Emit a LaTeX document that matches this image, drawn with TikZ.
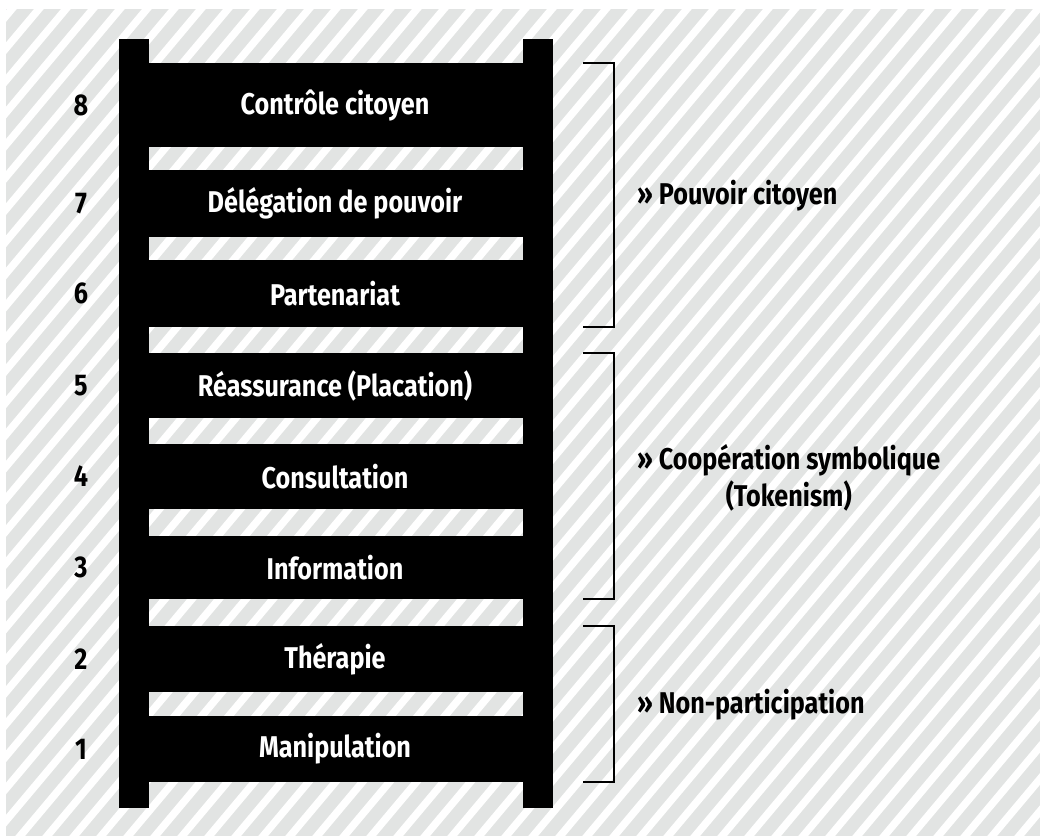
\documentclass[tikz,border=0pt]{standalone}
\usepackage{fontspec}
\setmainfont{Fira Sans}[FakeStretch=0.84]
\definecolor{stripegray}{HTML}{E2E4E3}
\begin{document}
\begin{tikzpicture}[x=1pt,y=-1pt,
  rail/.style={fill=black},
  rung/.style={fill=black, text=white, inner sep=0pt, minimum width=390pt,
    font=\bfseries\fontsize{30}{33}\selectfont},
  numtext/.style={text=black, inner sep=0pt,
    font=\bfseries\fontsize{30}{33}\selectfont},
  grouptext/.style={text=black, anchor=west, align=center, inner sep=0pt,
    font=\bfseries\fontsize{30}{37}\selectfont},
  bracket/.style={draw=black, line width=2pt, line join=miter}]
\useasboundingbox (0,0) rectangle (1040,836);
\fill[white] (0,0) rectangle (1040,836);

% striped backdrop
\begin{scope}
  \clip (6,9) rectangle (1040,836);
  \fill[stripegray] (6,9) rectangle (1040,836);
  \foreach \k in {-40,...,45}
    \draw[white, line width=7.5pt] (\k*27, 860) -- ++(755,-900);
\end{scope}

% ladder rails
\fill[rail] (118.5,39) rectangle (148.5,808);
\fill[rail] (522.5,39) rectangle (552.5,808);

% rungs
\node[rung, minimum height=84pt] (r8) at (335,105)   {Contrôle citoyen};
\node[rung, minimum height=67pt] (r7) at (335,203.5) {Délégation de pouvoir};
\node[rung, minimum height=67pt] (r6) at (335,293.5) {Partenariat};
\node[rung, minimum height=65pt] (r5) at (335,385.5) {Réassurance (Placation)};
\node[rung, minimum height=65pt] (r4) at (335,476.5) {Consultation};
\node[rung, minimum height=63pt] (r3) at (335,567.5) {Information};
\node[rung, minimum height=66pt] (r2) at (335,659)   {Thérapie};
\node[rung, minimum height=66pt] (r1) at (335,749)   {Manipulation};

% level numbers
\foreach \n in {8,7,6,5,4,3,2,1}
  \node[numtext] (n\n) at (r\n.center -| 81,0) {\n};

% brackets
\coordinate (tick) at (583,0);
\coordinate (spine) at (614,0);
\draw[bracket] (r8.north -| tick) -- (r8.north -| spine) -- (r6.south -| spine) -- (r6.south -| tick);
\draw[bracket] (r5.north -| tick) -- (r5.north -| spine) -- (r3.south -| spine) -- (r3.south -| tick);
\draw[bracket] (r2.north -| tick) -- (r2.north -| spine) -- (r1.south -| spine) -- (r1.south -| tick);

% group labels
\node[grouptext] (g3) at (637,196) {» Pouvoir citoyen};
\node[grouptext] (g2) at (637,478) {» Coopération symbolique\\(Tokenism)};
\node[grouptext] (g1) at (637,705) {» Non-participation};
\end{tikzpicture}
\end{document}
